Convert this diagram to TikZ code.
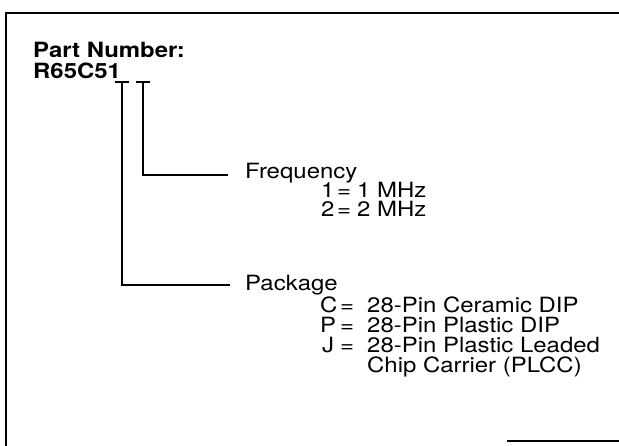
\documentclass[tikz,border=0pt]{standalone}
\usepackage{fontspec}
\setmainfont{TeX Gyre Heros}[FakeStretch=1.14]
\usetikzlibrary{positioning}
\newcommand{\lblsize}{\fontsize{21}{25}\selectfont}
\tikzstyle{lbl} = [inner sep=0pt, anchor=base west, font=\lblsize]
\tikzstyle{head} = [lbl, font=\lblsize\bfseries]
\tikzstyle{lead} = [-, line width=1.3pt]

\begin{document}
\begin{tikzpicture}[x=1pt, y=-1pt]
\useasboundingbox (0,0) rectangle (619,446);
% frame
\draw [line width=2pt] (619,13) -- (6,13) -- (6,446);
\draw [line width=2pt] (507,441) -- (619,441);

\node [head] (title) at (33,58) {Part Number:};
\node [head] (part) at (33,79) {R65C51};
\coordinate (pkgtick) at (122,82);
\coordinate (frqtick) at (143,82);

\node [lbl] (frq) at (245,179) {Frequency};
\node [lbl] (k1) at (321,198) {1};
\node [lbl] (e1) at (337,198) {=};
\node [lbl] (v1) at (357,198) {1 MHz};
\node [lbl] (k2) at (321,217) {2};
\node [lbl] (e2) at (337,217) {=};
\node [lbl] (v2) at (357,217) {2 MHz};

\node [lbl] (pkg) at (245,291) {Package};
\node [lbl] (kc) at (320,313) {C};
\node [lbl] (ec) at (340,313) {=};
\node [lbl] (vc) at (367,313) {28-Pin Ceramic DIP};
\node [lbl] (kp) at (320,333) {P};
\node [lbl] (ep) at (340,333) {=};
\node [lbl] (vp) at (367,333) {28-Pin Plastic DIP};
\node [lbl] (kj) at (322,353) {J};
\node [lbl] (ej) at (340,353) {=};
\node [lbl] (vj) at (367,353) {28-Pin Plastic Leaded};
\node [lbl] (vj2) at (367,373) {Chip Carrier (PLCC)};

\coordinate (frqend) at ([xshift=-17pt, yshift=4pt]frq.base west);
\coordinate (pkgend) at ([xshift=-15pt, yshift=6pt]pkg.base west);

\draw [lead] ([xshift=-7pt]pkgtick) -- ([xshift=7pt]pkgtick);
\draw [lead] ([xshift=-7pt]frqtick) -- ([xshift=7pt]frqtick);
\draw [lead] (frqtick) |- (frqend);
\draw [lead] (pkgtick) |- (pkgend);
\end{tikzpicture}
\end{document}
